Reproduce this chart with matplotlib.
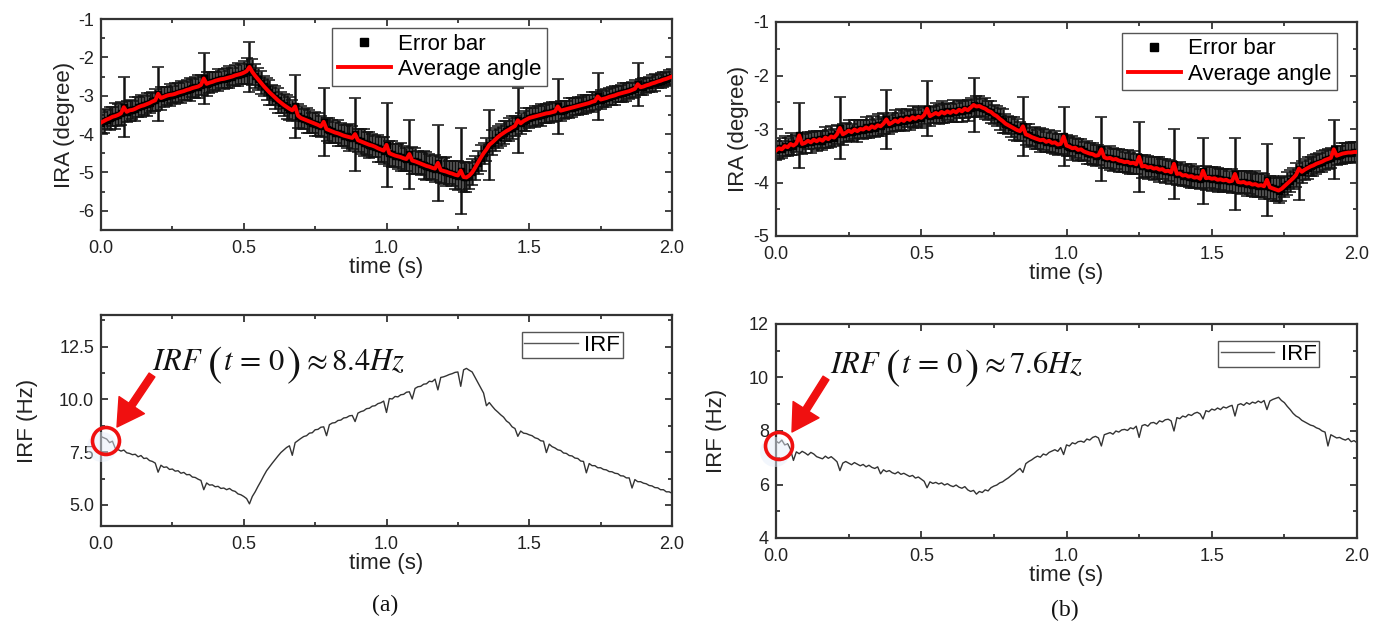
import numpy as np
import matplotlib
matplotlib.use("Agg")
import matplotlib.pyplot as plt
from matplotlib.lines import Line2D
from matplotlib.patches import FancyArrowPatch, Ellipse
from matplotlib.ticker import MultipleLocator, FormatStrFormatter

plt.rcParams['font.family'] = ['Liberation Sans', 'DejaVu Sans']
plt.rcParams['mathtext.fontset'] = 'stix'
plt.rcParams['axes.unicode_minus'] = False

# ---------------- data ----------------
t_top = np.round(np.arange(201) * 0.01, 2)   # time grid of IRA panels (s)
t_irf = np.round(np.arange(201) * 0.01, 2)   # time grid of IRF panels (s)

ira_a_mean = [
    -3.70, -3.66, -3.62, -3.59, -3.55, -3.53, -3.50, -3.46, -3.30, -3.42,
    -3.38, -3.37, -3.34, -3.30, -3.27, -3.25, -3.22, -3.19, -3.15, -3.12,
    -2.95, -3.06, -3.03, -3.00, -2.98, -2.97, -2.95, -2.92, -2.90, -2.88,
    -2.85, -2.83, -2.80, -2.78, -2.76, -2.72, -2.55, -2.69, -2.66, -2.64,
    -2.61, -2.59, -2.57, -2.56, -2.54, -2.52, -2.50, -2.47, -2.45, -2.43,
    -2.40, -2.36, -2.25, -2.38, -2.48, -2.57, -2.66, -2.75, -2.83, -2.91,
    -2.98, -3.05, -3.12, -3.18, -3.24, -3.29, -3.34, -3.38, -3.28, -3.52,
    -3.58, -3.61, -3.64, -3.67, -3.70, -3.73, -3.76, -3.80, -3.68, -3.87,
    -3.90, -3.93, -3.96, -3.98, -4.01, -4.04, -4.06, -4.08, -4.10, -4.00,
    -4.16, -4.19, -4.22, -4.25, -4.28, -4.30, -4.33, -4.37, -4.40, -4.43,
    -4.28, -4.50, -4.53, -4.56, -4.58, -4.60, -4.63, -4.65, -4.52, -4.69,
    -4.71, -4.74, -4.77, -4.80, -4.83, -4.85, -4.88, -4.90, -4.75, -4.94,
    -4.96, -4.98, -5.01, -5.03, -5.06, -5.08, -4.95, -5.12, -5.13, -5.08,
    -5.00, -4.88, -4.75, -4.62, -4.50, -4.40, -4.28, -4.22, -4.15, -4.08,
    -4.02, -3.97, -3.92, -3.88, -3.83, -3.79, -3.64, -3.72, -3.66, -3.62,
    -3.58, -3.56, -3.54, -3.52, -3.50, -3.48, -3.46, -3.45, -3.43, -3.41,
    -3.28, -3.39, -3.37, -3.35, -3.33, -3.31, -3.29, -3.27, -3.25, -3.23,
    -3.21, -3.19, -3.16, -3.14, -3.02, -3.10, -3.08, -3.06, -3.03, -3.01,
    -2.99, -2.96, -2.94, -2.92, -2.90, -2.88, -2.85, -2.82, -2.70, -2.78,
    -2.76, -2.73, -2.71, -2.68, -2.66, -2.63, -2.61, -2.58, -2.56, -2.53,
    -2.50]
ira_a_err = [
    0.28, 0.32, 0.26, 0.30, 0.25, 0.33, 0.28, 0.30, 0.78, 0.27,
    0.28, 0.24, 0.31, 0.26, 0.29, 0.25, 0.30, 0.27, 0.24, 0.29,
    0.70, 0.30, 0.26, 0.24, 0.28, 0.22, 0.27, 0.25, 0.29, 0.24,
    0.26, 0.30, 0.23, 0.28, 0.31, 0.26, 0.66, 0.32, 0.28, 0.25,
    0.24, 0.28, 0.22, 0.26, 0.25, 0.29, 0.22, 0.27, 0.30, 0.26,
    0.30, 0.34, 0.65, 0.35, 0.31, 0.28, 0.30, 0.26, 0.29, 0.32,
    0.26, 0.30, 0.33, 0.28, 0.29, 0.32, 0.30, 0.27, 0.82, 0.31,
    0.30, 0.27, 0.33, 0.29, 0.26, 0.31, 0.30, 0.28, 0.88, 0.30,
    0.32, 0.29, 0.28, 0.34, 0.30, 0.27, 0.31, 0.35, 0.30, 0.95,
    0.30, 0.33, 0.36, 0.30, 0.34, 0.31, 0.28, 0.35, 0.33, 0.36,
    1.10, 0.32, 0.34, 0.30, 0.33, 0.36, 0.32, 0.30, 0.90, 0.35,
    0.34, 0.31, 0.30, 0.37, 0.36, 0.33, 0.32, 0.35, 1.00, 0.34,
    0.34, 0.37, 0.30, 0.33, 0.36, 0.38, 1.12, 0.40, 0.38, 0.36,
    0.34, 0.32, 0.30, 0.33, 0.28, 0.31, 0.92, 0.32, 0.30, 0.28,
    0.28, 0.30, 0.26, 0.29, 0.30, 0.27, 0.84, 0.28, 0.26, 0.29,
    0.26, 0.24, 0.28, 0.25, 0.28, 0.23, 0.24, 0.27, 0.26, 0.24,
    0.72, 0.26, 0.23, 0.22, 0.26, 0.25, 0.22, 0.24, 0.22, 0.25,
    0.24, 0.22, 0.26, 0.23, 0.62, 0.24, 0.21, 0.23, 0.22, 0.24,
    0.25, 0.21, 0.22, 0.24, 0.24, 0.20, 0.20, 0.22, 0.56, 0.21,
    0.22, 0.19, 0.20, 0.22, 0.22, 0.18, 0.20, 0.19, 0.18, 0.20,
    0.20]

ira_b_mean = [
    -3.40, -3.36, -3.38, -3.32, -3.34, -3.28, -3.31, -3.27, -3.12, -3.28,
    -3.26, -3.22, -3.25, -3.20, -3.23, -3.19, -3.22, -3.16, -3.19, -3.14,
    -3.16, -3.10, -2.98, -3.10, -3.07, -3.03, -3.06, -3.01, -3.04, -3.00,
    -3.01, -2.97, -3.00, -2.95, -2.98, -2.93, -2.95, -2.90, -2.82, -2.91,
    -2.88, -2.84, -2.87, -2.82, -2.85, -2.80, -2.83, -2.78, -2.81, -2.77,
    -2.79, -2.74, -2.62, -2.76, -2.73, -2.70, -2.73, -2.68, -2.71, -2.67,
    -2.70, -2.66, -2.69, -2.64, -2.67, -2.62, -2.65, -2.60, -2.55, -2.58,
    -2.57, -2.60, -2.62, -2.66, -2.68, -2.73, -2.76, -2.81, -2.85, -2.90,
    -2.93, -2.96, -2.99, -3.02, -3.04, -2.95, -3.10, -3.12, -3.15, -3.17,
    -3.19, -3.21, -3.20, -3.24, -3.22, -3.26, -3.25, -3.29, -3.28, -3.14,
    -3.31, -3.33, -3.36, -3.35, -3.39, -3.38, -3.42, -3.44, -3.46, -3.47,
    -3.50, -3.49, -3.38, -3.53, -3.55, -3.54, -3.57, -3.56, -3.59, -3.60,
    -3.62, -3.61, -3.64, -3.63, -3.66, -3.52, -3.70, -3.69, -3.72, -3.71,
    -3.74, -3.73, -3.76, -3.75, -3.79, -3.78, -3.81, -3.65, -3.84, -3.83,
    -3.87, -3.86, -3.89, -3.88, -3.91, -3.90, -3.93, -3.78, -3.92, -3.91,
    -3.93, -3.92, -3.95, -3.94, -3.96, -3.95, -3.98, -3.97, -3.84, -3.99,
    -4.00, -3.99, -4.02, -4.01, -4.04, -4.03, -4.06, -4.05, -4.07, -3.95,
    -4.09, -4.11, -4.13, -4.15, -4.12, -4.07, -4.02, -3.97, -3.92, -3.86,
    -3.74, -3.80, -3.76, -3.73, -3.70, -3.68, -3.65, -3.63, -3.61, -3.58,
    -3.56, -3.54, -3.38, -3.50, -3.48, -3.46, -3.45, -3.44, -3.44, -3.43,
    -3.43]
ira_b_err = [
    0.18, 0.20, 0.16, 0.19, 0.17, 0.21, 0.18, 0.16, 0.60, 0.19,
    0.18, 0.16, 0.20, 0.17, 0.19, 0.16, 0.18, 0.20, 0.17, 0.19,
    0.16, 0.18, 0.58, 0.19, 0.18, 0.20, 0.16, 0.18, 0.21, 0.17,
    0.18, 0.20, 0.16, 0.19, 0.17, 0.21, 0.18, 0.19, 0.55, 0.18,
    0.17, 0.20, 0.16, 0.19, 0.18, 0.17, 0.19, 0.21, 0.16, 0.18,
    0.19, 0.17, 0.52, 0.18, 0.16, 0.19, 0.17, 0.20, 0.18, 0.16,
    0.17, 0.20, 0.18, 0.16, 0.19, 0.17, 0.20, 0.18, 0.50, 0.19,
    0.19, 0.17, 0.20, 0.18, 0.21, 0.17, 0.19, 0.20, 0.22, 0.18,
    0.17, 0.19, 0.22, 0.20, 0.18, 0.55, 0.19, 0.21, 0.17, 0.20,
    0.18, 0.22, 0.20, 0.19, 0.21, 0.18, 0.22, 0.20, 0.19, 0.55,
    0.20, 0.18, 0.22, 0.19, 0.21, 0.20, 0.18, 0.22, 0.19, 0.21,
    0.20, 0.19, 0.60, 0.20, 0.18, 0.22, 0.21, 0.19, 0.21, 0.20,
    0.19, 0.21, 0.20, 0.22, 0.19, 0.65, 0.21, 0.20, 0.22, 0.19,
    0.21, 0.20, 0.23, 0.19, 0.22, 0.20, 0.21, 0.65, 0.20, 0.22,
    0.20, 0.21, 0.19, 0.22, 0.20, 0.21, 0.19, 0.62, 0.22, 0.20,
    0.22, 0.21, 0.23, 0.20, 0.22, 0.21, 0.20, 0.23, 0.68, 0.21,
    0.22, 0.20, 0.23, 0.21, 0.22, 0.24, 0.21, 0.22, 0.23, 0.67,
    0.22, 0.24, 0.21, 0.23, 0.22, 0.20, 0.22, 0.21, 0.20, 0.22,
    0.58, 0.20, 0.19, 0.21, 0.18, 0.20, 0.19, 0.18, 0.20, 0.19,
    0.18, 0.19, 0.55, 0.18, 0.17, 0.19, 0.18, 0.17, 0.19, 0.18,
    0.18]

irf_a = [
    8.24, 8.18, 8.12, 7.95, 8.02, 7.68, 7.62, 7.55, 7.60, 7.47,
    7.44, 7.38, 7.40, 7.28, 7.34, 7.20, 7.22, 7.10, 7.06, 6.98,
    6.55, 6.88, 6.78, 6.80, 6.68, 6.70, 6.60, 6.62, 6.50, 6.54,
    6.43, 6.44, 6.32, 6.30, 6.22, 6.16, 5.72, 6.04, 5.94, 5.95,
    5.86, 5.88, 5.78, 5.80, 5.72, 5.78, 5.68, 5.64, 5.52, 5.48,
    5.40, 5.30, 5.05, 5.40, 5.62, 5.88, 6.12, 6.38, 6.62, 6.80,
    6.98, 7.15, 7.32, 7.48, 7.60, 7.72, 7.80, 7.35, 7.95, 8.05,
    8.15, 8.24, 8.28, 8.40, 8.42, 8.56, 8.58, 8.68, 8.70, 8.28,
    8.80, 8.88, 8.90, 9.00, 9.02, 9.12, 9.14, 9.22, 9.24, 8.95,
    9.35, 9.42, 9.46, 9.56, 9.58, 9.68, 9.70, 9.80, 9.84, 9.92,
    9.38, 10.04, 10.02, 10.14, 10.12, 10.22, 10.24, 10.34, 10.36, 10.02,
    10.52, 10.60, 10.62, 10.72, 10.74, 10.86, 10.84, 10.96, 10.45, 11.04,
    11.07, 11.12, 11.18, 11.22, 11.28, 11.30, 10.62, 11.40, 11.47, 11.38,
    11.30, 11.05, 10.80, 10.55, 10.30, 9.70, 9.85, 9.68, 9.52, 9.40,
    9.27, 9.16, 8.98, 8.88, 8.70, 8.62, 8.25, 8.50, 8.40, 8.38,
    8.32, 8.28, 8.18, 8.14, 8.04, 8.02, 7.48, 7.88, 7.76, 7.70,
    7.61, 7.58, 7.46, 7.44, 7.34, 7.32, 7.22, 7.20, 7.08, 7.06,
    6.52, 6.96, 6.86, 6.86, 6.76, 6.76, 6.68, 6.66, 6.58, 6.57,
    6.50, 6.48, 6.38, 6.37, 6.28, 6.28, 5.80, 6.20, 6.10, 6.10,
    6.03, 6.00, 5.92, 5.90, 5.82, 5.81, 5.72, 5.72, 5.62, 5.62,
    5.55]

irf_b = [
    7.62, 7.55, 7.66, 7.48, 7.52, 7.30, 6.90, 7.22, 7.15, 7.24,
    7.18, 7.10, 7.20, 7.14, 7.04, 7.00, 6.96, 7.06, 6.98, 7.04,
    6.95, 6.85, 6.52, 6.80, 6.86, 6.80, 6.74, 6.82, 6.76, 6.70,
    6.75, 6.66, 6.72, 6.64, 6.60, 6.66, 6.40, 6.55, 6.48, 6.52,
    6.44, 6.40, 6.47, 6.38, 6.42, 6.36, 6.30, 6.34, 6.24, 6.28,
    6.20, 6.12, 5.88, 6.10, 6.04, 6.08, 6.02, 6.06, 5.98, 6.03,
    5.96, 5.92, 5.98, 5.90, 5.86, 5.92, 5.80, 5.74, 5.78, 5.64,
    5.74, 5.70, 5.80, 5.76, 5.88, 5.94, 5.98, 6.06, 6.10, 6.18,
    6.25, 6.34, 6.42, 6.52, 6.60, 6.45, 6.78, 6.86, 6.92, 7.00,
    7.06, 7.02, 7.14, 7.10, 7.20, 7.25, 7.30, 7.24, 7.38, 7.12,
    7.48, 7.44, 7.56, 7.52, 7.60, 7.62, 7.58, 7.70, 7.66, 7.76,
    7.80, 7.74, 7.44, 7.86, 7.90, 7.94, 7.88, 8.00, 7.96, 8.04,
    8.06, 8.02, 8.12, 8.08, 8.18, 7.76, 8.20, 8.24, 8.18, 8.30,
    8.32, 8.26, 8.38, 8.34, 8.42, 8.44, 8.38, 8.00, 8.50, 8.46,
    8.56, 8.52, 8.62, 8.58, 8.66, 8.70, 8.64, 8.45, 8.76, 8.72,
    8.82, 8.78, 8.86, 8.80, 8.90, 8.86, 8.92, 8.96, 8.56, 8.98,
    9.02, 8.96, 9.06, 9.00, 9.08, 9.04, 9.12, 9.06, 9.14, 8.80,
    9.12, 9.18, 9.22, 9.26, 9.14, 9.06, 8.92, 8.80, 8.66, 8.56,
    8.50, 8.40, 8.34, 8.28, 8.22, 8.19, 8.12, 8.08, 8.00, 7.96,
    7.44, 7.86, 7.80, 7.74, 7.76, 7.70, 7.66, 7.72, 7.60, 7.64,
    7.56]

legend_top = ['Error bar', 'Average angle']
legend_irf = ['IRF']
note_a_value = r'$\approx 8.4Hz$'
note_b_value = r'$\approx 7.6Hz$'

# ---------------- layout ----------------
W, H = 1386, 630
fig = plt.figure(figsize=(W / 100, H / 100), dpi=100)
renderer = fig.canvas.get_renderer()


def rect(l, t, r, b):
    return [l / W, 1 - b / H, (r - l) / W, (b - t) / H]


def fxy(x, y):
    return (x / W, 1 - y / H)


ax_a1 = fig.add_axes(rect(101, 19, 672, 230))
ax_b1 = fig.add_axes(rect(776, 22, 1357, 236))
ax_a2 = fig.add_axes(rect(101, 315, 672, 526))
ax_b2 = fig.add_axes(rect(776, 324, 1357, 538))


def style(ax, ylim, ymaj, ymin, yfmt, ylabel, ylabelpad):
    ax.set_xlim(0, 2)
    ax.set_ylim(*ylim)
    ax.xaxis.set_major_locator(MultipleLocator(0.5))
    ax.xaxis.set_minor_locator(MultipleLocator(0.25))
    ax.xaxis.set_major_formatter(FormatStrFormatter('%.1f'))
    ax.yaxis.set_major_locator(MultipleLocator(ymaj))
    ax.yaxis.set_minor_locator(MultipleLocator(ymin))
    ax.yaxis.set_major_formatter(FormatStrFormatter(yfmt))
    ax.tick_params(which='both', direction='in', top=True, right=True,
                   color='#222', labelcolor='#222', width=1.2)
    ax.tick_params(which='major', length=5, labelsize=13)
    ax.tick_params(which='minor', length=3)
    ax.tick_params(axis='x', pad=7)
    ax.tick_params(axis='y', pad=5)
    for s in ax.spines.values():
        s.set_linewidth(1.6)
        s.set_color('#333')
    ax.set_xlabel('time (s)', fontsize=16, labelpad=0, color='#222')
    ax.set_ylabel(ylabel, fontsize=16, labelpad=ylabelpad, color='#222')


def top_panel(ax, mean, err, anchor):
    ax.errorbar(t_top, mean, yerr=err, fmt='s', ms=5, color='k', ecolor='#111',
                elinewidth=1.8, capsize=4.5, capthick=1.1, zorder=2)
    ax.plot(t_top, mean, color='#ff0000', lw=2.8, zorder=3)
    handles = [Line2D([], [], ls='none', marker='s', ms=6, color='k'),
               Line2D([], [], color='#ff0000', lw=2.8)]
    leg = ax.legend(handles, legend_top, loc='upper left', bbox_to_anchor=anchor,
                    borderaxespad=0, fontsize=16, frameon=True, fancybox=False,
                    edgecolor='#555', framealpha=1, handlelength=2.4,
                    handletextpad=0.3, borderpad=0.25, labelspacing=0.2)
    leg.get_frame().set_linewidth(1.0)
    leg.set_zorder(5)


def irf_panel(ax, vals, anchor):
    ax.plot(t_irf, vals, color='#333', lw=1.0)
    h = [Line2D([], [], color='#555', lw=1.0)]
    leg = ax.legend(h, legend_irf, loc='upper left', bbox_to_anchor=anchor,
                    borderaxespad=0, fontsize=16, frameon=True, fancybox=False,
                    edgecolor='#555', framealpha=1, handlelength=2.4,
                    handletextpad=0.3, borderpad=0.12)
    leg.get_frame().set_linewidth(1.0)


style(ax_a1, (-6.5, -1), 1, 0.5, '%d', 'IRA (degree)', 2)
style(ax_b1, (-5, -1), 1, 0.5, '%d', 'IRA (degree)', 3)
style(ax_a2, (4, 14), 2.5, 1.25, '%.1f', 'IRF (Hz)', 15)
style(ax_b2, (4, 12), 2, 1, '%d', 'IRF (Hz)', 16)

top_panel(ax_a1, ira_a_mean, ira_a_err, (0.405, 0.957))
top_panel(ax_b1, ira_b_mean, ira_b_err, (0.596, 0.949))
irf_panel(ax_a2, irf_a, (0.737, 0.919))
irf_panel(ax_b2, irf_b, (0.761, 0.921))


# ---------------- annotations ----------------
def chain_text(x0, base, value):
    # (text, fontsize, downward shift px, gap after px)
    parts = [(r'$IRF$', 22, 0, 4), (r'$($', 31, 6, 1), (r'$t\,=\,0$', 22, 0, 1),
             (r'$)$', 31, 6, 2), (value, 22, 0, 0)]
    x = x0
    for s, fs, dy, gap in parts:
        t = fig.text(*fxy(x, base + dy), s, fontsize=fs, ha='left',
                     va='baseline', color='#111')
        bb = t.get_window_extent(renderer)
        x = bb.x1 + gap


red = '#f01010'
for (tx, ty), (hx, hy), (cx, cy), (nx, ny), value in [
        ((152, 375), (117, 427), (106, 441), (152, 370), note_a_value),
        ((826, 378), (792, 432), (779, 446), (830, 373), note_b_value)]:
    chain_text(nx, ny, value)
    arr = FancyArrowPatch(fxy(tx, ty), fxy(hx, hy), transform=fig.transFigure,
                          arrowstyle='simple,head_length=19,head_width=22,tail_width=5',
                          mutation_scale=1, color=red, shrinkA=0, shrinkB=0, zorder=10)
    fig.add_artist(arr)
    glow = Ellipse(fxy(cx - 4, cy + 6), width=30 / W, height=30 / H,
                   transform=fig.transFigure, facecolor='#e6eefa', edgecolor='none',
                   alpha=0.5, zorder=1)
    fig.add_artist(glow)
    circ = Ellipse(fxy(cx, cy), width=27 / W, height=27 / H, transform=fig.transFigure,
                   fill=False, edgecolor=red, lw=2.6, zorder=10)
    fig.add_artist(circ)

fig.text(*fxy(385, 605), '(a)', fontsize=17, family='Liberation Serif',
         ha='center', va='center', color='#111')
fig.text(*fxy(1065, 610), '(b)', fontsize=17, family='Liberation Serif',
         ha='center', va='center', color='#111')

fig.savefig('out.png', dpi=100)
